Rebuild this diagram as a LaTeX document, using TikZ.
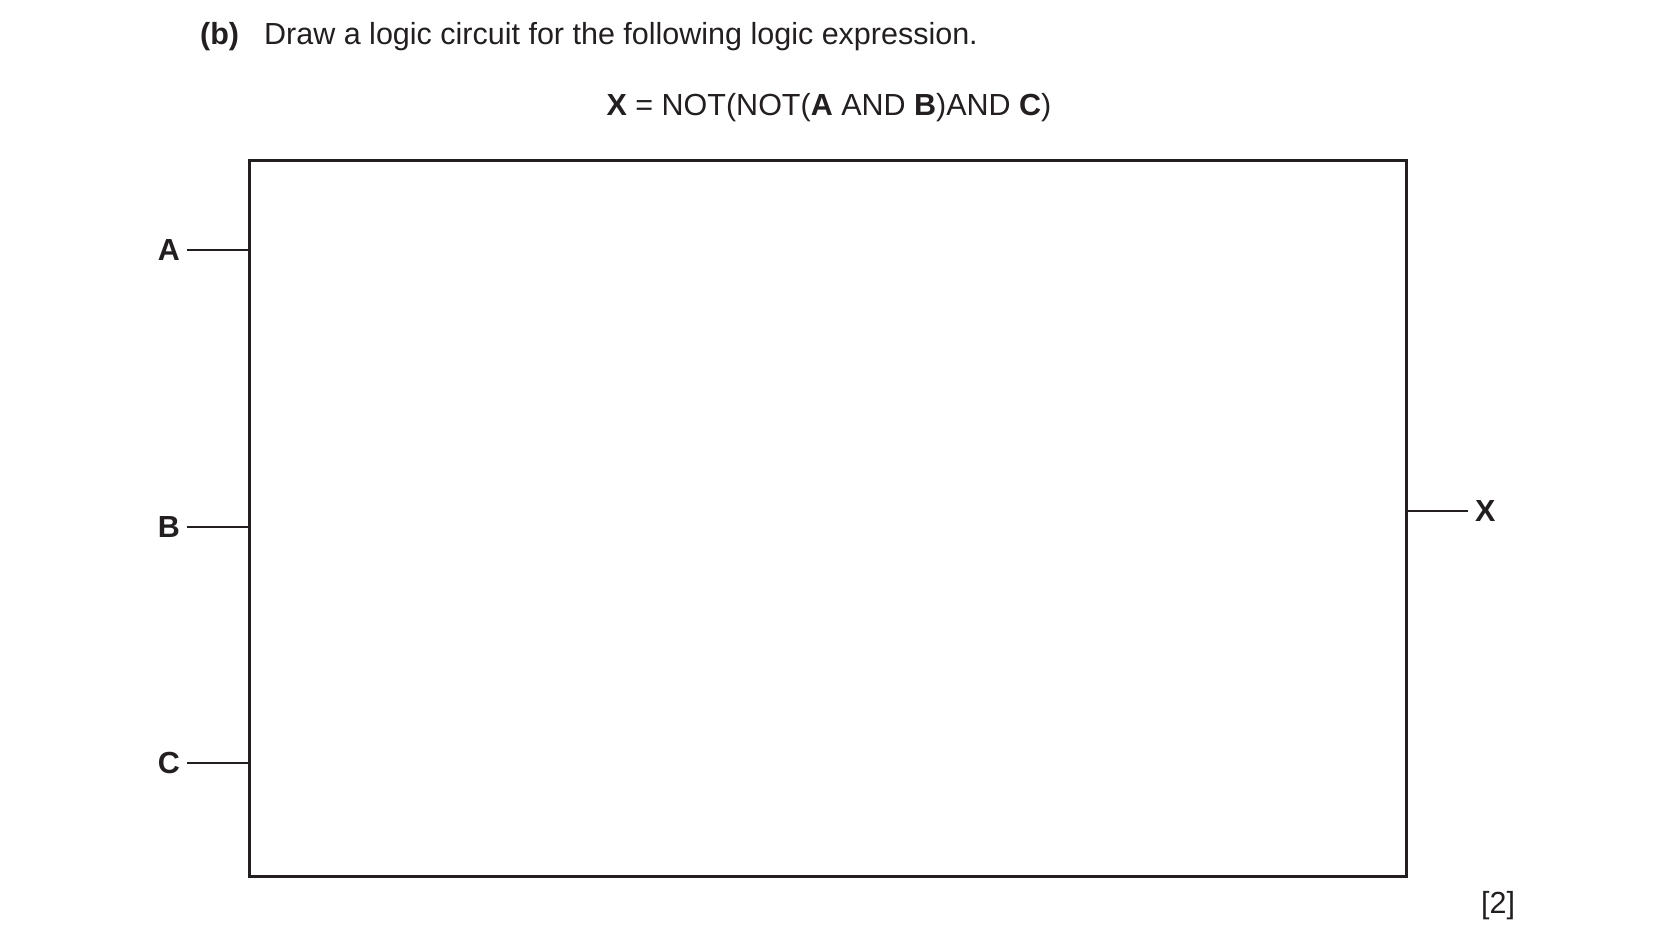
\documentclass[tikz,border=0pt]{standalone}
\usepackage{fontspec}
\setmainfont{Liberation Sans}
\usetikzlibrary{positioning}
\definecolor{printblack}{RGB}{35,31,32}
\tikzset{
	lead/.style={line width=2.6pt},
	pinlabel/.style={font=\fontsize{30.5}{36}\selectfont\bfseries, inner sep=0pt},
}
\begin{document}
\begin{tikzpicture}[x=1pt, y=-1pt, color=printblack, node font=\fontsize{30.5}{36}\selectfont]
	\useasboundingbox (0,0) rectangle (1654,938);
	% question text
	\node[anchor=west, inner sep=0pt] (part) at (200,37) {\textbf{(b)}};
	\node[anchor=west, inner sep=0pt] (task) at (264,37) {Draw a logic circuit for the following logic expression.};
	\node[inner sep=0pt] (expr) at (829,108) {\textbf{X} = NOT(NOT(\textbf{A} AND \textbf{B})AND \textbf{C})};
	% answer box
	\draw[line width=3pt] (249,160) rectangle (1406,876);
	\coordinate (boxA) at (249,250);
	\coordinate (boxB) at (249,527);
	\coordinate (boxC) at (249,763);
	\coordinate (boxX) at (1406,511);
	\coordinate (endA) at (187,250);
	\coordinate (endB) at (187,527);
	\coordinate (endC) at (187,763);
	\coordinate (endX) at (1468,511);
	\draw[lead] (endA) -- (boxA);
	\draw[lead] (endB) -- (boxB);
	\draw[lead] (endC) -- (boxC);
	\draw[lead] (boxX) -- (endX);
	\node[pinlabel, left=7pt of endA] (A) {A};
	\node[pinlabel, left=7pt of endB] (B) {B};
	\node[pinlabel, left=7pt of endC] (C) {C};
	\node[pinlabel, right=7pt of endX] (X) {X};
	\node[inner sep=0pt] (marks) at (1498,906) {[2]};
\end{tikzpicture}
\end{document}
